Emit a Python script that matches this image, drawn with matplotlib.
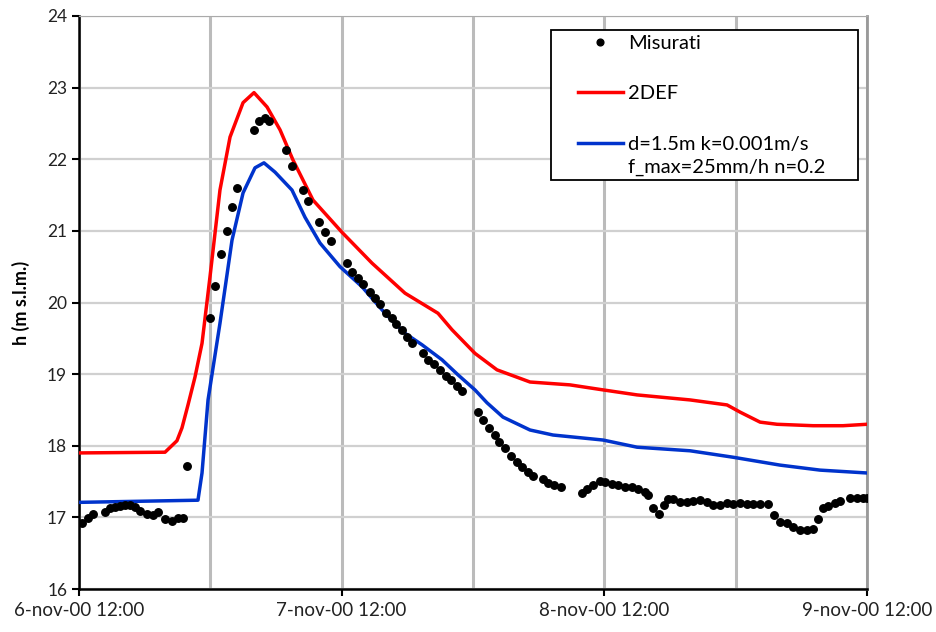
import matplotlib.pyplot as plt
from matplotlib.patches import Rectangle

# Hours after 6-nov-00 12:00
t_obs = [0.27, 0.82, 1.28, 2.38, 2.83, 3.29, 3.75, 4.20, 4.66, 5.12, 5.57, 6.21,
         6.76, 7.22, 7.86, 8.50, 9.05, 9.50, 9.87, 11.97, 12.43, 12.98, 13.52, 13.98,
         14.44, 15.99, 16.45, 17.00, 17.36, 18.91, 19.46, 20.47, 20.92, 21.93, 22.48,
         23.03, 24.49, 24.95, 25.49, 25.95, 26.59, 27.05, 27.50, 28.05, 28.60, 28.97,
         29.51, 29.97, 30.43, 31.43, 31.89, 32.44, 32.99, 33.53, 33.99, 34.54, 35.00,
         36.46, 36.92, 37.46, 38.01, 38.38, 38.93, 39.47, 40.02, 40.48, 41.03, 41.48,
         42.40, 42.85, 43.40, 44.04, 45.96, 46.42, 46.97, 47.61, 48.06, 48.70, 49.25,
         49.89, 50.53, 51.08, 51.72, 51.99, 52.45, 53.00, 53.45, 53.82, 54.28, 54.92,
         55.56, 56.10, 56.74, 57.38, 57.93, 58.57, 59.21, 59.76, 60.40, 61.04, 61.59,
         62.23, 62.96, 63.50, 64.05, 64.69, 65.24, 65.88, 66.52, 67.07, 67.53, 67.98,
         68.44, 69.08, 69.53, 70.45, 71.09, 71.64, 72.00]
h_obs = [16.92, 16.99, 17.05, 17.08, 17.13, 17.14, 17.16, 17.17, 17.17, 17.14, 17.09, 17.05,
         17.03, 17.08, 16.98, 16.95, 16.99, 16.99, 17.72, 19.78, 20.23, 20.68, 21.00, 21.33,
         21.60, 22.41, 22.53, 22.58, 22.53, 22.13, 21.91, 21.57, 21.42, 21.12, 20.98,
         20.86, 20.55, 20.43, 20.34, 20.26, 20.15, 20.06, 19.98, 19.85, 19.78, 19.70,
         19.62, 19.52, 19.43, 19.29, 19.20, 19.14, 19.06, 18.97, 18.92, 18.83, 18.76,
         18.47, 18.36, 18.25, 18.15, 18.05, 17.97, 17.86, 17.77, 17.70, 17.63, 17.58,
         17.54, 17.48, 17.45, 17.42, 17.34, 17.40, 17.45, 17.51, 17.49, 17.47, 17.45,
         17.42, 17.42, 17.40, 17.35, 17.31, 17.13, 17.05, 17.17, 17.26, 17.26, 17.21,
         17.21, 17.23, 17.24, 17.21, 17.17, 17.17, 17.20, 17.19, 17.20, 17.19, 17.19,
         17.19, 17.19, 17.03, 16.94, 16.92, 16.87, 16.82, 16.82, 16.84, 16.98, 17.13,
         17.16, 17.20, 17.23, 17.27, 17.27, 17.27, 17.27]

# 2DEF model
t_2def = [0.0, 7.86, 8.95, 9.41, 9.96, 10.60, 11.24, 11.97, 12.88, 13.80, 14.99, 15.99,
          17.18, 18.37, 19.55, 21.38, 24.03, 26.77, 29.79, 32.80, 34.08, 36.18, 38.19,
          41.21, 44.86, 47.88, 50.99, 55.83, 59.21, 60.40, 62.23, 63.78, 67.07, 69.81, 72.0]
h_2def = [17.90, 17.91, 18.07, 18.25, 18.57, 18.96, 19.43, 20.36, 21.57, 22.31, 22.79, 22.93,
          22.73, 22.41, 21.99, 21.43, 20.98, 20.55, 20.13, 19.85, 19.62, 19.29, 19.06,
          18.89, 18.85, 18.78, 18.71, 18.64, 18.57, 18.47, 18.33, 18.30, 18.28, 18.28, 18.30]

# d=1.5m k=0.001m/s f_max=25mm/h n=0.2
t_inf = [0.0, 10.87, 11.24, 11.79, 12.88, 13.98, 14.99, 16.08, 16.90, 17.91, 19.46, 20.65,
         22.02, 23.85, 25.86, 27.96, 29.79, 31.34, 33.17, 34.63, 36.18, 37.28, 38.74,
         41.21, 43.31, 47.88, 50.99, 55.83, 59.76, 64.05, 67.71, 72.0]
h_inf = [17.21, 17.24, 17.62, 18.64, 19.71, 20.87, 21.53, 21.88, 21.95, 21.82, 21.57, 21.19,
         20.83, 20.50, 20.22, 19.85, 19.57, 19.41, 19.20, 18.99, 18.78, 18.60, 18.40,
         18.22, 18.15, 18.08, 17.98, 17.93, 17.84, 17.73, 17.66, 17.62]

x_ticks = [0, 24, 48, 72]
x_labels = ['6-nov-00 12:00', '7-nov-00 12:00', '8-nov-00 12:00', '9-nov-00 12:00']

plt.rcParams['font.family'] = ['Lato', 'DejaVu Sans']

fig = plt.figure(figsize=(9.36, 6.32), dpi=100)
ax = fig.add_axes([0.0844, 0.068, 0.8419, 0.9067])

ax.plot(t_2def, h_2def, color='#FF0000', lw=2.5, label='2DEF', zorder=3)
ax.plot(t_inf, h_inf, color='#0033CC', lw=2.5, label='d=1.5m k=0.001m/s', zorder=3)
ax.plot(t_obs, h_obs, 'o', color='black', ms=5.4, label='Misurati', zorder=4)

ax.set_xlim(0, 72)
ax.set_ylim(16, 24)
ax.set_xticks(x_ticks)
ax.set_xticklabels(x_labels)
ax.set_xticks(range(0, 73, 12), minor=True)
ax.tick_params(axis='x', which='minor', length=0)
ax.tick_params(axis='both', which='major', direction='out', length=5, width=1.5,
               colors='black', labelcolor='#222222')
ax.tick_params(axis='x', labelsize=13.5, pad=4)
ax.tick_params(axis='y', labelsize=12.5)
ax.set_yticks(range(16, 25))

ax.grid(axis='x', which='both', color='#BBBBBB', lw=2.2)
ax.grid(axis='y', which='major', color='#D0D0D0', lw=1.6)
ax.set_axisbelow(True)

for side in ['left', 'bottom']:
    ax.spines[side].set_linewidth(1.8)
ax.spines['top'].set_color('#AAAAAA')
ax.spines['right'].set_color('#999999')
ax.spines['right'].set_linewidth(2)

ax.set_ylabel('h (m s.l.m.)', fontsize=13, fontweight='bold', labelpad=12)

# legend box drawn separately so the entries can sit inside with wide margins
box = Rectangle((0.599, 0.7138), 0.3896, 0.2618, transform=ax.transAxes,
                facecolor='white', edgecolor='black', lw=1.3, zorder=5)
ax.add_patch(box)

handles, labels = ax.get_legend_handles_labels()
order = [2, 0, 1]
leg = ax.legend([handles[i] for i in order], [labels[i] for i in order],
                loc='upper left', bbox_to_anchor=(0.633, 0.967), fontsize=14.5,
                frameon=False, borderaxespad=0, borderpad=0,
                handlelength=2.25, handletextpad=0.25, labelspacing=1.65,
                markerscale=0.9)
leg.set_zorder(6)
ax.text(0.6967, 0.7365, 'f_max=25mm/h n=0.2', transform=ax.transAxes,
        fontsize=14.5, va='center', ha='left', zorder=6)

fig.savefig('out.png', dpi=100)
